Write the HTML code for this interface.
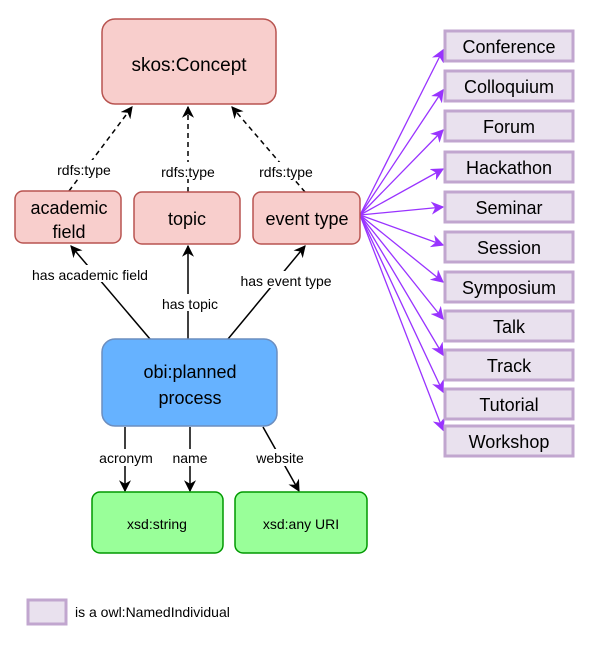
<!DOCTYPE html>
<html><head><meta charset="utf-8"><style>
body{margin:0;background:#fff;}
svg text{font-family:"Liberation Sans",Arial,sans-serif;}
</style></head><body>
<svg width="592" height="640" viewBox="0 0 592 640" xmlns="http://www.w3.org/2000/svg">
<defs>
<marker id="a" viewBox="0 0 10 10" refX="9" refY="5" markerWidth="8" markerHeight="8" orient="auto" markerUnits="strokeWidth"><path d="M0,0 L10,5 L0,10 L3,5 z" fill="#000"/></marker>
<marker id="p" viewBox="0 0 10 10" refX="9" refY="5" markerWidth="10" markerHeight="10" orient="auto" markerUnits="strokeWidth"><path d="M0,0 L10,5 L0,10 L3,5 z" fill="#9933ff"/></marker>
</defs>
<!-- purple fan -->
<g stroke="#9933ff" stroke-width="1.3" fill="none" marker-end="url(#p)">
<line x1="360" y1="215" x2="443" y2="50"/>
<line x1="360" y1="215" x2="443" y2="90"/>
<line x1="360" y1="215" x2="443" y2="130"/>
<line x1="360" y1="215" x2="443" y2="169"/>
<line x1="360" y1="215" x2="443" y2="207"/>
<line x1="360" y1="215" x2="443" y2="245"/>
<line x1="360" y1="215" x2="443" y2="282"/>
<line x1="360" y1="215" x2="443" y2="319"/>
<line x1="360" y1="215" x2="443" y2="355"/>
<line x1="360" y1="215" x2="443" y2="392"/>
<line x1="360" y1="215" x2="443" y2="430"/>
</g>
<!-- purple boxes -->
<g fill="#e9e1ee" stroke="#c1a6cf" stroke-width="3">
<rect x="445" y="31" width="128" height="30"/>
<rect x="445" y="71" width="128" height="30"/>
<rect x="445" y="111" width="128" height="30"/>
<rect x="445" y="152" width="128" height="30"/>
<rect x="445" y="192" width="128" height="30"/>
<rect x="445" y="232" width="128" height="30"/>
<rect x="445" y="272" width="128" height="30"/>
<rect x="445" y="311" width="128" height="30"/>
<rect x="445" y="350" width="128" height="30"/>
<rect x="445" y="389" width="128" height="30"/>
<rect x="445" y="426" width="128" height="30"/>
</g>
<g font-size="18" text-anchor="middle" fill="#000">
<text x="509" y="53">Conference</text>
<text x="509" y="93">Colloquium</text>
<text x="509" y="133">Forum</text>
<text x="509" y="174">Hackathon</text>
<text x="509" y="214">Seminar</text>
<text x="509" y="254">Session</text>
<text x="509" y="294">Symposium</text>
<text x="509" y="333">Talk</text>
<text x="509" y="372">Track</text>
<text x="509" y="411">Tutorial</text>
<text x="509" y="448">Workshop</text>
</g>
<!-- edges -->
<g stroke="#000" stroke-width="1.5" fill="none" stroke-dasharray="5,4">
<line x1="69" y1="191" x2="132" y2="107" marker-end="url(#a)" />
<line x1="188" y1="192" x2="188" y2="107" marker-end="url(#a)"/>
<line x1="305" y1="192" x2="232" y2="107" marker-end="url(#a)"/>
</g>
<g stroke="#000" stroke-width="1.5" fill="none">
<line x1="150" y1="339" x2="71" y2="246" marker-end="url(#a)"/>
<line x1="188" y1="339" x2="188" y2="246" marker-end="url(#a)"/>
<line x1="228" y1="339" x2="305" y2="246" marker-end="url(#a)"/>
<line x1="125" y1="427" x2="125" y2="491" marker-end="url(#a)"/>
<line x1="190" y1="427" x2="190" y2="491" marker-end="url(#a)"/>
<line x1="263" y1="427" x2="299" y2="491" marker-end="url(#a)"/>
</g>
<!-- nodes -->
<rect x="102" y="19" width="174" height="85" rx="13" fill="#f8cecc" stroke="#b85450" stroke-width="1.5"/>
<text x="189" y="71" font-size="19" text-anchor="middle">skos:Concept</text>
<rect x="15" y="191" width="106" height="52" rx="8" fill="#f8cecc" stroke="#b85450" stroke-width="1.5"/>
<text x="69" y="214" font-size="18" text-anchor="middle">academic</text>
<text x="69" y="238" font-size="18" text-anchor="middle">field</text>
<rect x="134" y="192" width="106" height="52" rx="8" fill="#f8cecc" stroke="#b85450" stroke-width="1.5"/>
<text x="187" y="225" font-size="18" text-anchor="middle">topic</text>
<rect x="253" y="192" width="107" height="52" rx="8" fill="#f8cecc" stroke="#b85450" stroke-width="1.5"/>
<text x="307" y="225" font-size="18" text-anchor="middle">event type</text>
<rect x="102" y="339" width="175" height="87" rx="13" fill="#66b2ff" stroke="#6c8ebf" stroke-width="1.5"/>
<text x="190" y="378" font-size="18" text-anchor="middle">obi:planned</text>
<text x="190" y="404" font-size="18" text-anchor="middle">process</text>
<rect x="92" y="492" width="131" height="61" rx="8" fill="#99ff99" stroke="#009900" stroke-width="1.5"/>
<text x="157" y="529" font-size="14" text-anchor="middle">xsd:string</text>
<rect x="235" y="492" width="132" height="61" rx="8" fill="#99ff99" stroke="#009900" stroke-width="1.5"/>
<text x="301" y="529" font-size="14" text-anchor="middle">xsd:any URI</text>
<!-- labels -->
<g font-size="14" text-anchor="middle">
<rect x="52" y="160" width="64" height="17" fill="#fff"/><text x="84" y="175">rdfs:type</text>
<rect x="156" y="162" width="64" height="17" fill="#fff"/><text x="188" y="177">rdfs:type</text>
<rect x="254" y="162" width="64" height="17" fill="#fff"/><text x="286" y="177">rdfs:type</text>
<rect x="24" y="265" width="132" height="17" fill="#fff"/><text x="90" y="280">has academic field</text>
<rect x="158" y="294" width="64" height="17" fill="#fff"/><text x="190" y="309">has topic</text>
<rect x="234" y="271" width="104" height="17" fill="#fff"/><text x="286" y="286">has event type</text>
<rect x="96" y="449" width="60" height="17" fill="#fff"/><text x="126" y="463">acronym</text>
<rect x="170" y="449" width="40" height="17" fill="#fff"/><text x="190" y="463">name</text>
<rect x="252" y="449" width="56" height="17" fill="#fff"/><text x="280" y="463">website</text>
</g>
<rect x="28" y="600" width="38" height="24" fill="#e9e1ee" stroke="#c1a6cf" stroke-width="3"/>
<text x="75" y="617" font-size="14">is a owl:NamedIndividual</text>
</svg>
</body></html>
